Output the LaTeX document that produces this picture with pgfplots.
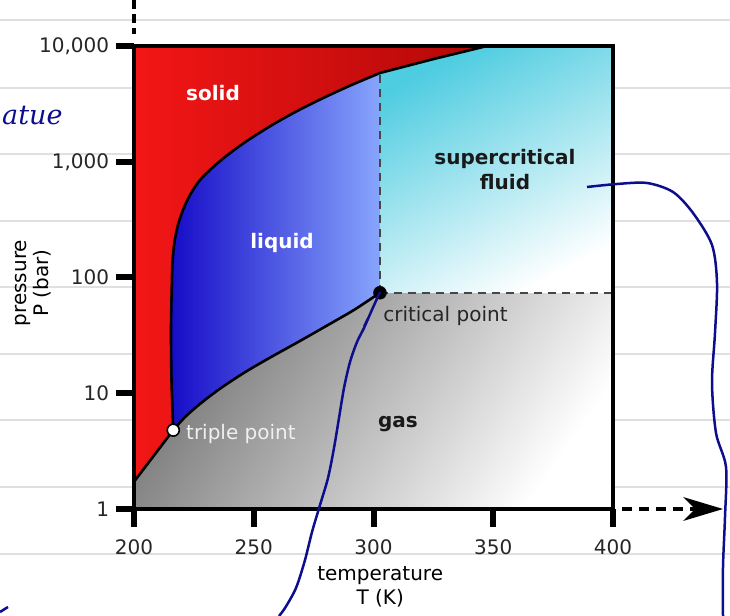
\documentclass[border=0pt]{standalone}
\usepackage{fontspec}
\setmainfont{DejaVu Sans}
\newfontfamily\handfont{DejaVu Serif}
\usepackage{pgfplots}
\pgfplotsset{compat=1.18}
\usetikzlibrary{arrows.meta}
\definecolor{redL}{RGB}{243,22,22}
\definecolor{redR}{RGB}{178,8,8}
\definecolor{blueL}{RGB}{22,12,200}
\definecolor{blueR}{RGB}{135,165,252}
\definecolor{cyanT}{RGB}{78,204,224}
\definecolor{grayD}{RGB}{118,118,118}
\definecolor{ink}{RGB}{14,14,140}
\definecolor{paper}{RGB}{224,224,224}
\definecolor{dashg}{RGB}{70,70,70}
\begin{document}
\fontsize{20bp}{24bp}\selectfont
\begin{tikzpicture}
% notebook lines (background)
\begin{scope}[shift={(-134bp,509bp)}, x=1bp, y=-1bp]
\foreach \yy in {20,88,154,221,287,354,420,487,554}
  \draw[paper, line width=1.6bp] (0,\yy) -- (730,\yy);
\end{scope}
\begin{axis}[
  scale only axis, width=479bp, height=463bp,
  xmin=200, xmax=400, ymin=1, ymax=10000, ymode=log,
  axis on top,
  axis line style={line width=3.5bp, black},
  xtick={200,250,300,350,400}, xticklabels={200,250,300,350,400},
  ytick={1,10,100,1000,10000}, yticklabels={1,10,100,{1,000},{10,000}},
  minor tick num=0, yminorticks=false,
  tick align=outside, tick pos=left,
  major tick length=18bp,
  tick style={line width=6bp, black},
  /pgf/number format/assume math mode=true,
  ticklabel style={font=\fontsize{20bp}{24bp}\selectfont, text=black!85},
  xticklabel style={yshift=-6bp},
  xlabel={temperature\\T (K)},
  xlabel style={align=center, at={(axis description cs:0.514,-0.168)}, anchor=center, font=\fontsize{20bp}{24bp}\selectfont},
  ylabel={pressure\\P (bar)},
  ylabel style={align=center, at={(axis description cs:-0.211,0.488)}, anchor=center, font=\fontsize{20bp}{22bp}\selectfont},
]
% gas
\addplot[draw=none, top color=grayD, bottom color=white, shading angle=55]
  coordinates {(200,1) (400,1) (400,74) (200,74)} -- cycle;
% supercritical fluid
\addplot[draw=none, top color=cyanT, middle color=cyanT!68!white, bottom color=white, shading angle=28]
  coordinates {(302.7,74) (400,74) (400,10000) (302.7,10000)} -- cycle;
% liquid
\addplot[draw=none, left color=blueL, right color=blueR]
  coordinates {(216.4,4.8) (215.66,13.0) (215.45,35.2) (215.74,78.0) (216.08,136.1) (216.91,202.6) (218.37,284.1) (220.46,383) (223.38,516) (227.56,695) (233.82,929) (240.08,1188) (248.43,1575) (258.87,2148) (269.31,2825) (279.75,3614) (290.19,4540) (302.7,5846)
   (302.7,73.9) (292.28,53.1) (281.84,39.8) (269.31,28.3) (256.78,20.3) (246.35,15.2) (235.91,10.95) (227.56,8.09) (221.29,6.22)} -- cycle;
% solid
\addplot[draw=none, left color=redL, right color=redR]
  coordinates {(200,1.72) (216.4,4.8) (215.66,13.0) (215.45,35.2) (215.74,78.0) (216.08,136.1) (216.91,202.6) (218.37,284.1) (220.46,383) (223.38,516) (227.56,695) (233.82,929) (240.08,1188) (248.43,1575) (258.87,2148) (269.31,2825) (279.75,3614) (290.19,4540) (302.7,5846) (325,7710) (347.4,10000) (200,10000)} -- cycle;
% dashed boundaries of the supercritical region
\addplot[dashg, line width=2bp, dash pattern=on 8bp off 6bp] coordinates {(302.7,73.9) (302.7,5846)};
\addplot[dashg, line width=2bp, dash pattern=on 8bp off 6bp] coordinates {(302.7,73.9) (400,73.9)};
% phase boundaries
\addplot[black, line width=2.6bp] coordinates {(200,1.72) (216.4,4.8)};
\addplot[black, line width=2.6bp, smooth] coordinates {(216.4,4.8) (215.66,13.0) (215.45,35.2) (215.74,78.0) (216.08,136.1) (216.91,202.6) (218.37,284.1) (220.46,383) (223.38,516) (227.56,695) (233.82,929) (240.08,1188) (248.43,1575) (258.87,2148) (269.31,2825) (279.75,3614) (290.19,4540) (302.7,5846)};
\addplot[black, line width=2.6bp] coordinates {(302.7,5846) (325,7710) (347.4,10000)};
\addplot[black, line width=2.6bp, smooth] coordinates {(216.4,4.8) (221.29,6.22) (227.56,8.09) (235.91,10.95) (246.35,15.2) (256.78,20.3) (269.31,28.3) (281.84,39.8) (292.28,53.1) (302.7,73.9)};
% points
\addplot[only marks, mark=*, mark size=6.5bp, mark options={fill=black, draw=black}] coordinates {(302.7,73.9)};
\addplot[only marks, mark=*, mark size=6bp, mark options={fill=white, draw=black, line width=1.6bp}] coordinates {(216.4,4.8)};
% labels
\node[text=white, font=\bfseries] at (axis cs:233,3926) {solid};
\node[text=white, font=\bfseries] at (axis cs:261.8,199) {liquid};
\node[align=center, text=black!90, font=\bfseries\fontsize{20bp}{25bp}\selectfont] at (axis cs:354.9,857) {supercritical\\fluid};
\node[text=black!90, font=\bfseries] at (axis cs:310.2,5.42) {gas};
\node[anchor=west, inner sep=0pt, text=black!85] at (axis cs:304,46.5) {critical point};
\node[anchor=west, inner sep=0pt, text=white!94!black] at (axis cs:221.7,4.45) {triple point};
\end{axis}
% annotations in pixel coordinates
\begin{scope}[shift={(-134bp,509bp)}, x=1bp, y=-1bp]
\draw[black, line width=4bp, dash pattern=on 9bp off 5bp] (134,0) -- (134,34);
\draw[black, line width=4bp, dash pattern=on 10bp off 7bp] (622,509) -- (696,509);
\fill[black] (723,509) -- (683,497) -- (695,509) -- (683,521) -- cycle;
\draw[ink, line width=2.5bp, smooth] plot coordinates {(380,292) (371,312) (364,328) (357,342) (350,362) (344,388) (339,418) (334,448) (328,478) (320,505) (312,532) (305,560) (296,588) (285,608) (279,616)};
\draw[ink, line width=2bp] (364,326) -- (368,318);
\draw[ink, line width=2.5bp, smooth] plot coordinates {(587,187) (617,184) (647,183) (673,192) (693,213) (712,245) (717,283) (715,333) (712,383) (716,433) (726,467) (725,517) (723,567) (723,616)};
\draw[ink, line width=2.5bp] (0,612) -- (8,607);
\node[anchor=west, inner sep=1pt, text=ink, font=\handfont\itshape\fontsize{27bp}{27bp}\selectfont] at (1,116) {atue};
\pgfresetboundingbox
\path[use as bounding box] (0,0) rectangle (730,616);
\end{scope}
\end{tikzpicture}
\end{document}
